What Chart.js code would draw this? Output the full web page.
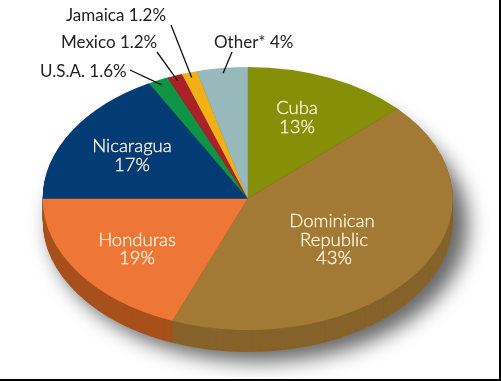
<!DOCTYPE html>
<html>
<head>
<meta charset="utf-8">
<script src="https://cdn.jsdelivr.net/npm/chart.js@4"></script>
<style>
html, body { margin: 0; padding: 0; background: #fff; }
#wrap { position: relative; width: 499px; height: 379px; border-right: 2px solid #000; border-bottom: 2px solid #000; overflow: hidden; }
#sombra { position: absolute; left: 50px; top: 88px; width: 418px; height: 274px; border-radius: 50%; background: rgba(0,0,0,0.6); filter: blur(10px); }
canvas { display: block; position: relative; }
</style>
</head>
<body>
<div id="wrap"><div id="sombra"></div><canvas id="grafico" width="499" height="379"></canvas></div>
<script>
// Dados
const paises = ['Cuba', 'Dominican Republic', 'Honduras', 'Nicaragua', 'U.S.A.', 'Mexico', 'Jamaica', 'Other*'];
const valores = [13, 43, 19, 17, 1.6, 1.2, 1.2, 4];
const rotulos = ['13%', '43%', '19%', '17%', '1.6%', '1.2%', '1.2%', '4%'];

const coresTopo = ['#868f08', '#a37a35', '#ee7637', '#033c74', '#0f9344', '#ab2128', '#f2b017', '#98b9bc'];
const coresLado = ['#5f6506', '#86632a', '#a8501c', '#022a52', '#0a6730', '#78171c', '#aa7c10', '#6b8284'];

// Elipse do topo da pizza e altura da lateral, em pixels
const elipse = { cx: 247.75, cy: 198.5, rx: 205, ry: 131.5, altura: 22 };

// Rótulos dentro das fatias: texto, x central, linha de base
const internos = [
    ['Cuba', 297, 114], ['13%', 297, 133],
    ['Dominican', 332, 227], ['Republic', 334, 246], ['43%', 334, 264],
    ['Honduras', 137, 246], ['19%', 137, 264],
    ['Nicaragua', 132, 152], ['17%', 132, 171]
];

// Rótulos de fora com linha guia (índice da fatia, x e y do texto, início da linha)
const externos = [
    { i: 6, x: 66, y: 21, lx: 171, ly: 25 },
    { i: 5, x: 61, y: 48, lx: 157, ly: 52 },
    { i: 4, x: 40, y: 77, lx: 130, ly: 70 },
    { i: 7, x: 214, y: 48, lx: 232, ly: 52 }
];

// Aplica a transformação que achata o círculo do Chart.js em elipse
function achatar(ctx, arco, dy) {
    const r = arco.outerRadius;
    ctx.translate(elipse.cx, elipse.cy + dy);
    ctx.scale(elipse.rx / r, elipse.ry / r);
    ctx.translate(-arco.x, -arco.y);
}

function desenharFatia(ctx, arco, cor) {
    const original = arco.options;
    arco.options = Object.assign({}, original, { backgroundColor: cor, borderColor: cor });
    arco.draw(ctx);
    arco.options = original;
}

const pizza3d = {
    id: 'pizza3d',
    beforeDatasetDraw(chart) {
        const ctx = chart.ctx;
        const arcos = chart.getDatasetMeta(0).data;

        // lateral: fatias repetidas de baixo para cima
        for (let dy = elipse.altura; dy > 0; dy--) {
            ctx.save();
            achatar(ctx, arcos[0], dy);
            arcos.forEach((arco, i) => desenharFatia(ctx, arco, coresLado[i]));
            ctx.restore();
        }

        ctx.save();
        achatar(ctx, arcos[0], 0);
    },
    afterDatasetDraw(chart) {
        chart.ctx.restore();
    },
    afterDraw(chart) {
        const ctx = chart.ctx;
        const arcos = chart.getDatasetMeta(0).data;
        ctx.save();
        ctx.textBaseline = 'alphabetic';

        // rótulos internos
        ctx.font = '300 18.5px Lato, sans-serif';
        ctx.fillStyle = '#fdf4dc';
        ctx.strokeStyle = '#fdf4dc';
        ctx.lineWidth = 0.35;
        ctx.textAlign = 'center';
        internos.forEach((r) => {
            ctx.fillText(r[0], r[1], r[2]);
            ctx.strokeText(r[0], r[1], r[2]);
        });

        // rótulos externos e linhas guia até o meio da fatia
        ctx.font = '17px Lato, sans-serif';
        ctx.fillStyle = '#222';
        ctx.strokeStyle = '#111';
        ctx.lineWidth = 1.3;
        ctx.textAlign = 'left';
        externos.forEach((r) => {
            ctx.fillText(paises[r.i] + ' ' + rotulos[r.i], r.x, r.y);
            const a = arcos[r.i];
            const meio = (a.startAngle + a.endAngle) / 2;
            ctx.beginPath();
            ctx.moveTo(r.lx, r.ly);
            ctx.lineTo(elipse.cx + Math.cos(meio) * elipse.rx * 0.96, elipse.cy + Math.sin(meio) * elipse.ry * 0.96);
            ctx.stroke();
        });
        ctx.restore();
    }
};

new Chart(document.getElementById('grafico'), {
    type: 'pie',
    data: {
        labels: paises,
        datasets: [{
            data: valores,
            backgroundColor: coresTopo,
            borderWidth: 0
        }]
    },
    options: {
        responsive: false,
        animation: false,
        plugins: {
            legend: { display: false },
            tooltip: { enabled: false }
        }
    },
    plugins: [pizza3d]
});
</script>
</body>
</html>
